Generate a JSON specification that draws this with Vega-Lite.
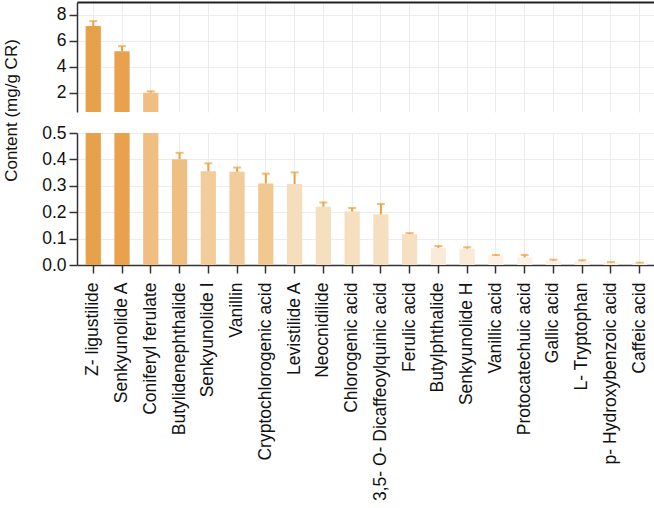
{
  "$schema": "https://vega.github.io/schema/vega-lite/v6.json",
  "padding": {"left": 1, "top": 2, "right": 1, "bottom": 0},
  "spacing": 21,
  "bounds": "flush",
  "config": {
    "font": "Liberation Sans",
    "view": {"stroke": null},
    "axis": {
      "labelFont": "Liberation Sans",
      "titleFont": "Liberation Sans",
      "labelFontSize": 17.5,
      "titleFontSize": 17,
      "titleFontWeight": "normal",
      "labelColor": "#111111",
      "titleColor": "#111111",
      "domainColor": "#333333",
      "domainWidth": 1.5,
      "tickColor": "#333333",
      "tickWidth": 1.5,
      "tickSize": 8,
      "gridColor": "#ececec",
      "gridWidth": 1,
      "labelLimit": 400
    }
  },
  "data": {
    "values": [
      {"compound": "Z- ligustilide", "value": 7.14, "upper": 7.52},
      {"compound": "Senkyunolide A", "value": 5.2, "upper": 5.59},
      {"compound": "Coniferyl ferulate", "value": 1.99, "upper": 2.1},
      {"compound": "Butylidenephthalide", "value": 0.401, "upper": 0.425},
      {"compound": "Senkyunolide I", "value": 0.355, "upper": 0.385},
      {"compound": "Vanillin", "value": 0.353, "upper": 0.369},
      {"compound": "Cryptochlorogenic acid", "value": 0.309, "upper": 0.346},
      {"compound": "Levistilide A", "value": 0.307, "upper": 0.351},
      {"compound": "Neocnidilide", "value": 0.221, "upper": 0.237},
      {"compound": "Chlorogenic acid", "value": 0.203, "upper": 0.216},
      {"compound": "3,5- O- Dicaffeoylquinic acid", "value": 0.192, "upper": 0.231},
      {"compound": "Ferulic acid", "value": 0.117, "upper": 0.121},
      {"compound": "Butylphthalide", "value": 0.065, "upper": 0.072},
      {"compound": "Senkyunolide H", "value": 0.062, "upper": 0.067},
      {"compound": "Vanillic acid", "value": 0.035, "upper": 0.038},
      {"compound": "Protocatechuic acid", "value": 0.029, "upper": 0.038},
      {"compound": "Gallic acid", "value": 0.016, "upper": 0.02},
      {"compound": "L- Tryptophan", "value": 0.014, "upper": 0.018},
      {"compound": "p- Hydroxybenzoic acid", "value": 0.009, "upper": 0.011},
      {"compound": "Caffeic acid", "value": 0.007, "upper": 0.009}
    ]
  },
  "vconcat": [
    {
      "width": 579,
      "height": 110,
      "encoding": {
        "x": {
          "field": "compound", "type": "nominal", "sort": null,
          "scale": {"paddingInner": 0.47, "paddingOuter": 0.3},
          "axis": {"orient": "top", "labels": false, "ticks": false, "title": null, "grid": true, "bandPosition": 0.5, "domainColor": "#222222", "domainWidth": 2}
        }
      },
      "layer": [
        {
          "mark": {"type": "bar", "clip": true},
          "encoding": {
            "y": {
              "field": "value", "type": "quantitative",
              "scale": {"domain": [0.5, 9], "zero": false, "nice": false},
              "axis": {"values": [2, 4, 6, 8], "title": "Content (mg/g CR)", "titleX": -57, "titleY": 108, "titleAngle": -90, "titleAlign": "center", "titleBaseline": "bottom", "grid": true, "labelPadding": 3}
            },
            "color": {
              "field": "compound", "type": "nominal", "legend": null,
              "scale": {
                "domain": ["Z- ligustilide", "Senkyunolide A", "Coniferyl ferulate", "Butylidenephthalide", "Senkyunolide I", "Vanillin", "Cryptochlorogenic acid", "Levistilide A", "Neocnidilide", "Chlorogenic acid", "3,5- O- Dicaffeoylquinic acid", "Ferulic acid", "Butylphthalide", "Senkyunolide H", "Vanillic acid", "Protocatechuic acid", "Gallic acid", "L- Tryptophan", "p- Hydroxybenzoic acid", "Caffeic acid"],
                "range": ["#E8A14B", "#E8A24D", "#EFBE80", "#EFBF82", "#F2CC9A", "#F2CC9A", "#F1C890", "#F6DEBD", "#F6DFBF", "#F6DFBF", "#F6DFBF", "#F7E0C2", "#FAEBD9", "#FAEBD9", "#FCF1E5", "#FCF1E5", "#FCF1E5", "#FCF1E5", "#FCF1E5", "#FCF1E5"]
              }
            }
          }
        },
        {
          "mark": {"type": "rule", "clip": true, "color": "#EF9F3F", "strokeWidth": 2},
          "encoding": {
            "y": {"field": "value", "type": "quantitative", "axis": {"orient": "right", "labels": false, "ticks": false, "grid": false, "title": null, "domainColor": "#222222", "domainWidth": 2}},
            "y2": {"field": "upper"}
          }
        },
        {
          "mark": {"type": "tick", "clip": true, "color": "#EF9F3F", "thickness": 2, "size": 8},
          "encoding": {
            "y": {"field": "upper", "type": "quantitative", "axis": null}
          }
        }
      ],
      "resolve": {"axis": {"y": "independent"}}
    },
    {
      "width": 579,
      "height": 132,
      "encoding": {
        "x": {
          "field": "compound", "type": "nominal", "sort": null,
          "scale": {"paddingInner": 0.47, "paddingOuter": 0.3},
          "axis": {"orient": "bottom", "title": null, "grid": true, "bandPosition": 0.5, "labelAngle": -90, "labelPadding": 9}
        }
      },
      "layer": [
        {
          "mark": {"type": "bar", "clip": true},
          "encoding": {
            "y": {
              "field": "value", "type": "quantitative",
              "scale": {"domain": [0, 0.5], "nice": false},
              "axis": {"values": [0, 0.1, 0.2, 0.3, 0.4, 0.5], "format": ".1f", "title": null, "grid": true, "labelPadding": 3}
            },
            "color": {
              "field": "compound", "type": "nominal", "legend": null,
              "scale": {
                "domain": ["Z- ligustilide", "Senkyunolide A", "Coniferyl ferulate", "Butylidenephthalide", "Senkyunolide I", "Vanillin", "Cryptochlorogenic acid", "Levistilide A", "Neocnidilide", "Chlorogenic acid", "3,5- O- Dicaffeoylquinic acid", "Ferulic acid", "Butylphthalide", "Senkyunolide H", "Vanillic acid", "Protocatechuic acid", "Gallic acid", "L- Tryptophan", "p- Hydroxybenzoic acid", "Caffeic acid"],
                "range": ["#E8A14B", "#E8A24D", "#EFBE80", "#EFBF82", "#F2CC9A", "#F2CC9A", "#F1C890", "#F6DEBD", "#F6DFBF", "#F6DFBF", "#F6DFBF", "#F7E0C2", "#FAEBD9", "#FAEBD9", "#FCF1E5", "#FCF1E5", "#FCF1E5", "#FCF1E5", "#FCF1E5", "#FCF1E5"]
              }
            }
          }
        },
        {
          "mark": {"type": "rule", "clip": true, "color": "#EF9F3F", "strokeWidth": 2},
          "encoding": {
            "y": {"field": "value", "type": "quantitative", "axis": {"orient": "right", "labels": false, "ticks": false, "grid": false, "title": null, "domainColor": "#222222", "domainWidth": 2}},
            "y2": {"field": "upper"}
          }
        },
        {
          "mark": {"type": "tick", "clip": true, "color": "#EF9F3F", "thickness": 2, "size": 8},
          "encoding": {
            "y": {"field": "upper", "type": "quantitative", "axis": null}
          }
        }
      ],
      "resolve": {"axis": {"y": "independent"}}
    }
  ]
}
